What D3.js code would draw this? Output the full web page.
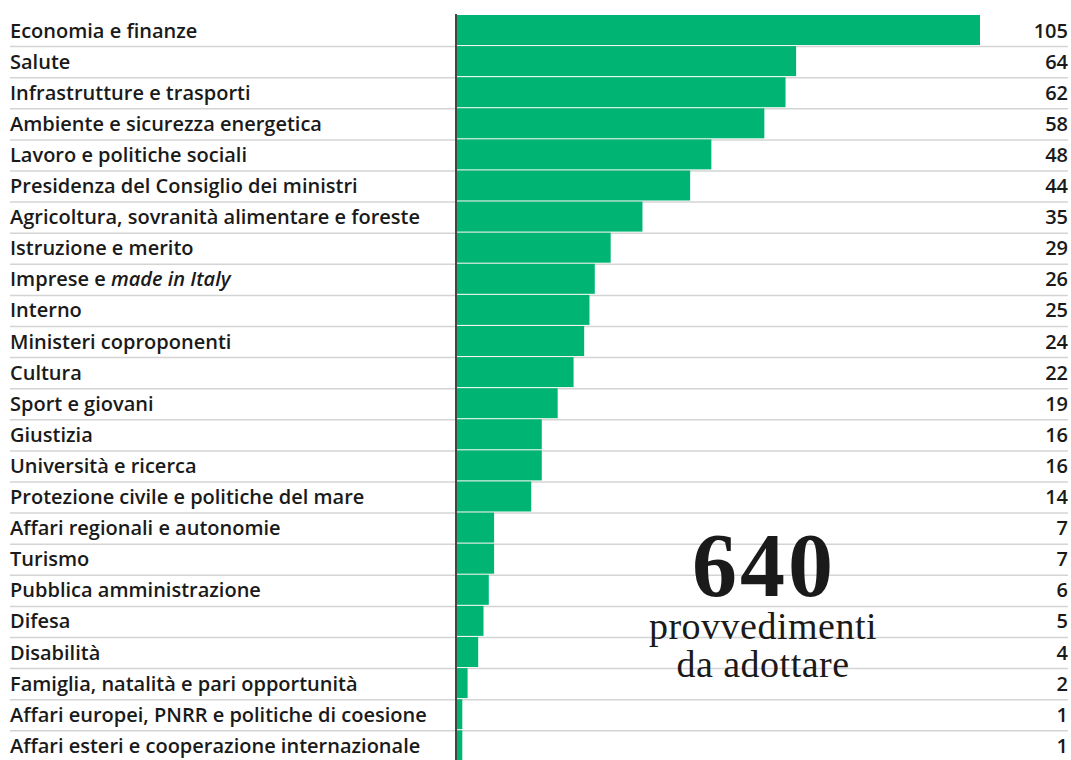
<!DOCTYPE html>
<html>
<head>
<meta charset="utf-8">
<script src="https://cdn.jsdelivr.net/npm/d3@7"></script>
<style>
  body { margin: 0; background: #fff; }
  svg { display: block; }
</style>
</head>
<body>
<script>
const categories = [
  "Economia e finanze",
  "Salute",
  "Infrastrutture e trasporti",
  "Ambiente e sicurezza energetica",
  "Lavoro e politiche sociali",
  "Presidenza del Consiglio dei ministri",
  "Agricoltura, sovranità alimentare e foreste",
  "Istruzione e merito",
  "Imprese e |made in Italy",
  "Interno",
  "Ministeri coproponenti",
  "Cultura",
  "Sport e giovani",
  "Giustizia",
  "Università e ricerca",
  "Protezione civile e politiche del mare",
  "Affari regionali e autonomie",
  "Turismo",
  "Pubblica amministrazione",
  "Difesa",
  "Disabilità",
  "Famiglia, natalità e pari opportunità",
  "Affari europei, PNRR e politiche di coesione",
  "Affari esteri e cooperazione internazionale"
];
const values = [105, 64, 62, 58, 48, 44, 35, 29, 26, 25, 24, 22, 19, 16, 16, 14, 7, 7, 6, 5, 4, 2, 1, 1];
const totalValue = "640";
const totalLines = ["provvedimenti", "da adottare"];

const w = 1071, h = 760;
const svg = d3.select("body").append("svg").attr("width", w).attr("height", h);

const step = 31.1;
const y = d3.scaleBand()
  .domain(categories)
  .range([15, 15 + step * categories.length])
  .padding(0);

// the longest bar is cut at the frame edge
const x = d3.scaleLinear()
  .domain([0, 98.7])
  .range([457, 980])
  .clamp(true);

const sans = "'Open Sans', 'Noto Sans', sans-serif";

// separators
svg.selectAll("line.sep")
  .data(categories)
  .enter()
  .append("line")
  .attr("class", "sep")
  .attr("x1", 10)
  .attr("x2", 1068)
  .attr("y1", d => y(d) + y.bandwidth() + 0.5)
  .attr("y2", d => y(d) + y.bandwidth() + 0.5)
  .attr("stroke", "#d4d4d4")
  .attr("stroke-width", 1.5);

svg.selectAll("rect.bar")
  .data(categories)
  .enter()
  .append("rect")
  .attr("class", "bar")
  .attr("x", x(0))
  .attr("y", d => y(d))
  .attr("width", (d, i) => x(values[i]) - x(0))
  .attr("height", y.bandwidth() - 1.1)
  .attr("fill", "#00b574");

// axis line
svg.append("line")
  .attr("x1", 456).attr("x2", 456)
  .attr("y1", 14).attr("y2", h)
  .attr("stroke", "#444")
  .attr("stroke-width", 2);

// category labels
const labels = svg.selectAll("text.cat")
  .data(categories)
  .enter()
  .append("text")
  .attr("class", "cat")
  .attr("x", 10)
  .attr("y", d => y(d) + 22.5)
  .attr("font-family", sans)
  .attr("font-weight", 600)
  .attr("font-size", "20px")
  .attr("fill", "#1a1a1a");

labels.each(function(d) {
  const parts = d.split("|");
  const t = d3.select(this);
  t.append("tspan").text(parts[0]);
  if (parts[1]) t.append("tspan").attr("font-style", "italic").text(parts[1]);
});

// values
svg.selectAll("text.val")
  .data(categories)
  .enter()
  .append("text")
  .attr("class", "val")
  .attr("x", 1068)
  .attr("y", d => y(d) + 22.5)
  .attr("text-anchor", "end")
  .attr("font-family", sans)
  .attr("font-weight", 600)
  .attr("font-size", "20px")
  .attr("fill", "#1a1a1a")
  .text((d, i) => values[i]);

// total
const serif = "'Liberation Serif', 'DejaVu Serif', serif";
svg.append("text")
  .attr("x", 764).attr("y", 596)
  .attr("text-anchor", "middle")
  .attr("font-family", serif)
  .attr("font-weight", "bold")
  .attr("font-size", "90px")
  .attr("letter-spacing", "3px")
  .attr("fill", "#1a1a1a")
  .text(totalValue);

svg.selectAll("text.sub")
  .data(totalLines)
  .enter()
  .append("text")
  .attr("class", "sub")
  .attr("x", 763)
  .attr("y", (d, i) => 639 + i * 38)
  .attr("text-anchor", "middle")
  .attr("font-family", serif)
  .attr("font-size", "38px")
  .attr("letter-spacing", "0.5px")
  .attr("fill", "#1a1a1a")
  .text(d => d);
</script>
</body>
</html>
